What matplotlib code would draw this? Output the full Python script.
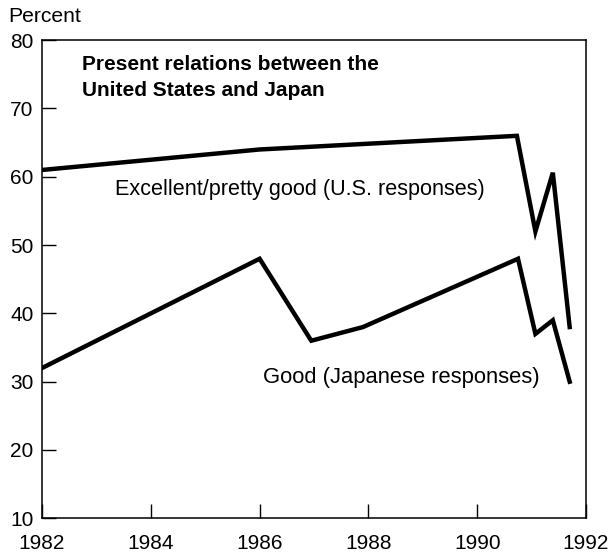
import matplotlib
matplotlib.use("Agg")
import matplotlib.pyplot as plt

plt.rcParams['font.family'] = ['Liberation Sans', 'DejaVu Sans']

# Data (year, percent)
us_years = [1982.0, 1986.0, 1990.73, 1991.07, 1991.39, 1991.7]
us_values = [61, 64, 66, 52, 60.6, 38]
jp_years = [1982.0, 1986.0, 1986.95, 1987.9, 1990.75, 1991.07, 1991.39, 1991.7]
jp_values = [32, 48, 36, 38, 48, 37, 39, 30]

x_ticks = [1982, 1984, 1986, 1988, 1990, 1992]
y_ticks = [10, 20, 30, 40, 50, 60, 70, 80]

title = "Present relations between the\nUnited States and Japan"
us_label = "Excellent/pretty good (U.S. responses)"
jp_label = "Good (Japanese responses)"

fig = plt.figure(figsize=(6.12, 5.53), dpi=100)
ax = fig.add_axes([42/612, (553-518.3)/553, (586-42)/612, (518.3-40.2)/553])

ax.plot(us_years, us_values, color='black', lw=3.2, solid_joinstyle='miter')
ax.plot(jp_years, jp_values, color='black', lw=3.2, solid_joinstyle='miter')

ax.set_xlim(1982, 1992)
ax.set_ylim(10, 80)
ax.set_xticks(x_ticks)
ax.set_yticks(y_ticks)
ax.tick_params(direction='in', length=10, width=1, labelsize=15, pad=6)
ax.tick_params(axis='x', pad=11)
for s in ax.spines.values():
    s.set_linewidth(1.1)

ax.text(1982.74, 77.9, title, fontsize=15, fontweight='bold', va='top', ha='left',
        linespacing=1.5)
ax.text(1983.34, 58.1, us_label, fontsize=15.6, va='center', ha='left')
ax.text(1986.06, 30.6, jp_label, fontsize=15.8, va='center', ha='left')

fig.text(8/612, 1 - 17/553, "Percent", fontsize=15.2, va='center', ha='left')

fig.savefig("out.png", dpi=100)
